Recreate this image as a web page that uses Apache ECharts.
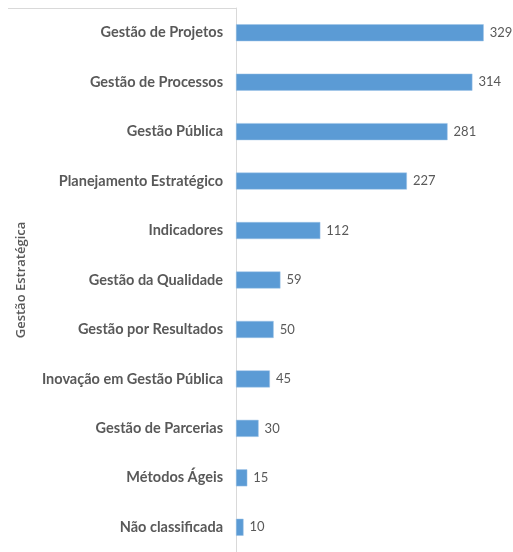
<!doctype html>
<html lang="pt">
<head>
    <meta charset="UTF-8">
    <title>Gestão Estratégica</title>
    <style>
        html, body {margin: 0; padding: 0; background: #fff;}
        #chart {width: 513px; height: 552px;}
    </style>
</head>
<body>
<div id="chart"></div>
<script src="https://cdn.jsdelivr.net/npm/echarts@6/dist/echarts.min.js"></script>
<script>
    // dados (de baixo para cima, como o eixo de categorias do echarts)
    var categorias = ['Não classificada', 'Métodos Ágeis', 'Gestão de Parcerias', 'Inovação em Gestão Pública',
        'Gestão por Resultados', 'Gestão da Qualidade', 'Indicadores', 'Planejamento Estratégico',
        'Gestão Pública', 'Gestão de Processos', 'Gestão de Projetos'];
    var valores = [10, 15, 30, 45, 50, 59, 112, 227, 281, 314, 329];
    var grupo = 'Gestão Estratégica';

    var fonte = 'Lato, "Open Sans", sans-serif';
    var chart = echarts.init(document.getElementById('chart'));
    chart.setOption({
        animation: false,
        grid: {left: 236, right: 15, top: 8, bottom: 0, containLabel: false},
        xAxis: {
            type: 'value',
            min: 0,
            max: 348,
            show: false
        },
        yAxis: {
            type: 'category',
            data: categorias,
            name: grupo,
            nameLocation: 'middle',
            nameRotate: 90,
            nameGap: 208,
            nameTextStyle: {color: '#595959', fontSize: 13, fontWeight: 600, fontFamily: '"Open Sans", sans-serif'},
            axisLine: {show: true, lineStyle: {color: '#d9d9d9', width: 1}},
            axisTick: {show: false},
            axisLabel: {color: '#595959', fontSize: 14.5, fontWeight: 'bold', fontFamily: fonte, margin: 13}
        },
        graphic: [
            {
                type: 'line',
                shape: {x1: 8, y1: 8.5, x2: 236, y2: 8.5},
                style: {stroke: '#d9d9d9', lineWidth: 1}
            }
        ],
        series: [
            {
                type: 'bar',
                data: valores,
                barWidth: 17,
                itemStyle: {color: '#5b9bd5', borderColor: '#9dc3e6', borderWidth: 0.5},
                label: {
                    show: true,
                    position: 'right',
                    distance: 6,
                    color: '#595959',
                    fontSize: 13,
                    fontFamily: fonte
                }
            }
        ]
    });
</script>
</body>
</html>
